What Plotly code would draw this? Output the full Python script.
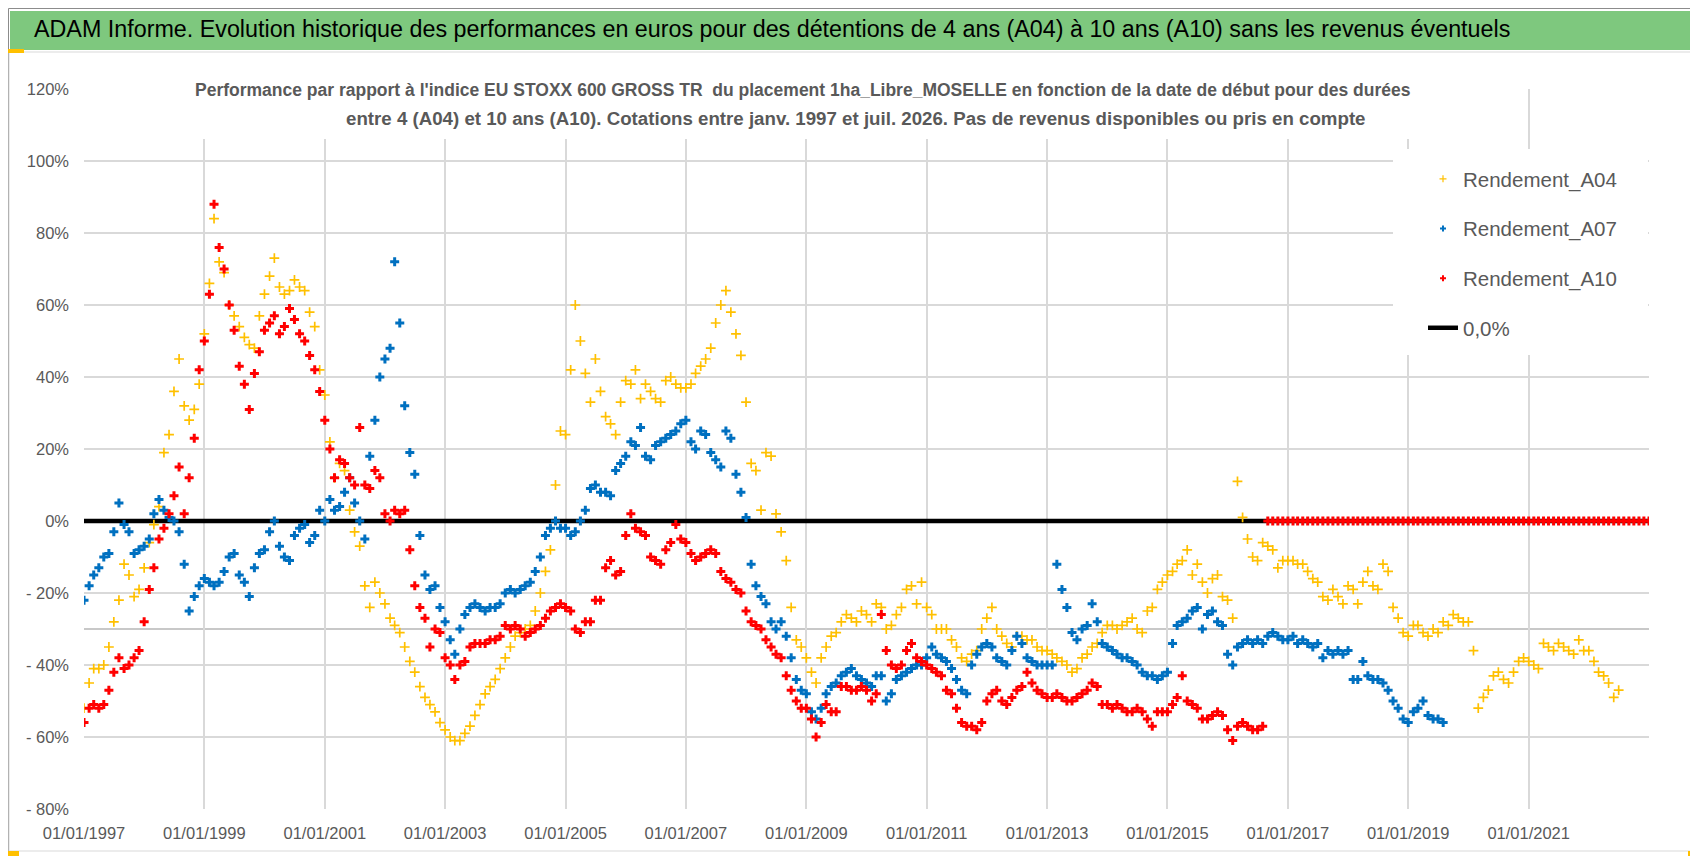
import plotly.graph_objects as go
import pandas as pd

# Rendement (%) par date de début, un point par mois
A04 = [
    -52, -45, -41, -41, -40, -35, -28, -22, -12, -15, -21, -19,   # 1997
    -13, -6, -1, 4, 19, 24, 36, 45, 32, 28, 31, 38,               # 1998
    52, 66, 84, 72, 69, 60, 57, 54, 51, 49, 48, 57,               # 1999
    63, 68, 73, 65, 63, 64, 67, 65, 64, 58, 54, 42,               # 2000
    35, 22, 12, 16, 14, 3, -3, -7, -18, -24, -17, -20,            # 2001
    -23, -27, -29, -31, -35, -39, -42, -46, -49, -51, -53, -56,   # 2002
    -58, -60, -61, -61, -59, -57, -54, -51, -48, -46, -44, -41,   # 2003
    -38, -35, -32, -31, -30, -29, -25, -20, -14, -8, 10, 25,      # 2004
    24, 42, 60, 50, 41, 33, 45, 36, 29, 27, 24, 33,               # 2005
    39, 38, 42, 34, 38, 36, 34, 33, 39, 40, 38, 37,               # 2006
    37, 38, 41, 43, 45, 48, 55, 60, 64, 58, 52, 46,               # 2007
    33, 16, 14, 3, 19, 18, 2, -3, -11, -24, -33, -35,             # 2008
    -38, -42, -45, -38, -35, -32, -31, -28, -26, -27, -28, -25,   # 2009
    -26, -28, -23, -24, -30, -29, -26, -24, -19, -18, -23, -17,   # 2010
    -24, -26, -30, -30, -30, -33, -35, -38, -39, -37, -36, -30,   # 2011
    -27, -24, -30, -32, -34, -35, -32, -32, -33, -33, -35, -36,   # 2012
    -36, -37, -38, -39, -40, -42, -41, -38, -37, -35, -34, -31,   # 2013
    -29, -29, -30, -29, -28, -27, -30, -31, -25, -24, -19, -17,   # 2014
    -15, -14, -12, -11, -8, -15, -12, -17, -20, -16, -15, -21,    # 2015
    -22, -27, 11, 1, -5, -10, -11, -6, -7, -8, -13, -11,          # 2016
    -11, -11, -12, -12, -14, -16, -17, -21, -22, -19, -21, -23,   # 2017
    -18, -19, -23, -17, -14, -18, -19, -12, -14, -24, -27, -31,   # 2018
    -32, -29, -29, -31, -32, -30, -31, -28, -29, -26, -27, -28,   # 2019
    -28, -36, -52, -49, -47, -43, -42, -44, -45, -42, -39, -38,   # 2020
    -39, -40, -41, -34, -35, -36, -34, -35, -36, -37, -33, -36,   # 2021
    -36, -39, -42, -43, -45, -49, -47,                            # 2022
]

A07 = [
    -22, -18, -15, -13, -10, -9, -3, 5, -1, -3, -9, -8,           # 1997
    -7, -5, 2, 6, 3, 1, 0, -3, -12, -25, -21, -18,                # 1998
    -16, -17, -18, -17, -14, -10, -9, -15, -17, -21, -13, -9,     # 1999
    -8, -3, 0, -7, -10, -11, -4, -2, -1, -6, -4, 3,               # 2000
    0, 6, 3, 4, 8, 12, 5, 0, -5, 18, 28, 40,                      # 2001
    45, 48, 72, 55, 32, 19, 13, -4, -15, -19, -18, -24,           # 2002
    -28, -33, -37, -30, -26, -24, -23, -24, -25, -24, -24, -23,   # 2003
    -20, -19, -20, -19, -18, -17, -14, -10, -4, -2, 0, -2,        # 2004
    -2, -4, -3, 0, 3, 9, 10, 8, 8, 7, 14, 16,                     # 2005
    18, 22, 21, 26, 18, 17, 21, 22, 23, 24, 25, 27,               # 2006
    28, 22, 20, 25, 24, 19, 17, 15, 25, 23, 13, 8,                # 2007
    1, -12, -18, -21, -23, -28, -30, -28, -32, -38, -44, -47,     # 2008
    -48, -53, -55, -52, -48, -46, -45, -43, -42, -41, -43, -44,   # 2009
    -45, -46, -43, -43, -50, -48, -44, -43, -42, -41, -40, -40,   # 2010
    -38, -35, -37, -38, -39, -41, -44, -47, -48, -40, -37, -35,   # 2011
    -34, -35, -38, -39, -40, -36, -32, -34, -38, -39, -40, -40,   # 2012
    -40, -40, -12, -19, -24, -31, -33, -30, -29, -23, -28, -34,   # 2013
    -35, -36, -37, -38, -38, -39, -40, -42, -43, -43, -44, -43,   # 2014
    -42, -34, -29, -28, -27, -25, -24, -30, -26, -25, -28, -29,   # 2015
    -37, -40, -35, -34, -33, -34, -33, -34, -32, -31, -32, -33,   # 2016
    -33, -32, -34, -33, -34, -35, -34, -38, -36, -37, -36, -37,   # 2017
    -36, -44, -44, -39, -43, -44, -44, -45, -47, -50, -52, -55,   # 2018
    -56, -53, -52, -50, -54, -55, -55, -56,                       # 2019
]

A10 = [
    -56, -52, -51, -52, -51, -47, -42, -38, -41, -40, -38, -36,   # 1997
    -28, -19, -13, -5, -2, 2, 7, 15, 2, 12, 23, 42,               # 1998
    50, 63, 88, 76, 70, 60, 53, 43, 38, 31, 41, 47,               # 1999
    53, 55, 57, 52, 54, 59, 56, 52, 50, 46, 42, 36,               # 2000
    28, 20, 12, 17, 16, 12, 10, 26, 10, 9, 14, 12,                # 2001
    2, 0, 3, 2, 3, -8, -18, -24, -27, -35, -30, -31,              # 2002
    -38, -40, -44, -40, -39, -35, -34, -34, -34, -33, -33, -32,   # 2003
    -29, -30, -29, -30, -32, -31, -30, -29, -27, -25, -24, -23,   # 2004
    -24, -25, -30, -31, -28, -28, -22, -22, -13, -11, -15, -14,   # 2005
    -4, 2, -2, -3, -4, -10, -11, -12, -8, -6, -1, -5,             # 2006
    -6, -9, -11, -10, -9, -8, -9, -14, -16, -17, -19, -20,        # 2007
    -25, -28, -29, -30, -33, -35, -37, -38, -43, -47, -50, -52,   # 2008
    -52, -55, -60, -56, -51, -53, -53, -46, -46, -47, -47, -46,   # 2009
    -47, -50, -48, -26, -36, -40, -41, -40, -36, -34, -38, -39,   # 2010
    -40, -41, -42, -43, -47, -48, -52, -56, -57, -57, -58, -56,   # 2011
    -50, -48, -47, -50, -51, -49, -47, -46, -42, -45, -47, -48,   # 2012
    -49, -49, -48, -49, -50, -50, -49, -48, -47, -45, -46, -51,   # 2013
    -51, -52, -51, -52, -53, -53, -52, -53, -55, -57, -53, -53,   # 2014
    -53, -51, -49, -43, -50, -51, -52, -55, -55, -54, -53, -54,   # 2015
    -58, -61, -57, -56, -57, -58, -58, -57,                       # 2016 (jan-aout)
    0, 0, 0, 0,                                                   # 2016 (sept-dec)
    0, 0, 0, 0, 0, 0, 0, 0, 0, 0, 0, 0,                           # 2017
    0, 0, 0, 0, 0, 0, 0, 0, 0, 0, 0, 0,                           # 2018
    0, 0, 0, 0, 0, 0, 0, 0, 0, 0, 0, 0,                           # 2019
    0, 0, 0, 0, 0, 0, 0, 0, 0, 0, 0, 0,                           # 2020
    0, 0, 0, 0, 0, 0, 0, 0, 0, 0, 0, 0,                           # 2021
    0, 0, 0, 0, 0, 0, 0, 0, 0, 0, 0, 0,                           # 2022
    0,                                                            # 2023
]

ZERO_LINE_DATES = ["1997-01-01", "2023-01-01"]
ZERO_LINE_VALUES = [0, 0]

X_TICKS = ["1997-01-01", "1999-01-01", "2001-01-01", "2003-01-01", "2005-01-01",
           "2007-01-01", "2009-01-01", "2011-01-01", "2013-01-01", "2015-01-01",
           "2017-01-01", "2019-01-01", "2021-01-01"]
Y_TICKS = [120, 100, 80, 60, 40, 20, 0, -20, -40, -60, -80]
Y_LABELS = ["120%", "100%", "80%", "60%", "40%", "20%", "0%",
            "- 20%", "- 40%", "- 60%", "- 80%"]

SERIES = [
    ("Rendement_A04", A04, "#FFC000", "cross-thin"),
    ("Rendement_A07", A07, "#0070C0", "cross"),
    ("Rendement_A10", A10, "#FF0000", "cross"),
]

TITRE = ("ADAM Informe. Evolution historique des performances en euros pour des "
         "détentions de 4 ans (A04) à 10 ans (A10) sans les revenus éventuels")
SOUS_TITRE_1 = ("Performance par rapport à l'indice EU STOXX 600 GROSS TR  du placement "
                "1ha_Libre_MOSELLE en fonction de la date de début pour des durées")
SOUS_TITRE_2 = ("entre 4 (A04) et 10 ans (A10). Cotations entre janv. 1997 et juil. 2026. "
                "Pas de revenus disponibles ou pris en compte")

FONT = "Liberation Sans, Arial, sans-serif"
GRIS = "#595959"

W, H = 1698, 856
ML, MR, MT, MB = 76, 57, 81, 55


def px(x):
    # pixel -> coordonnée papier (horizontal)
    return (x - ML) / (W - ML - MR)


def py(y):
    # pixel -> coordonnée papier (vertical)
    return (H - MB - y) / (H - MT - MB)


fig = go.Figure()

# ligne 0,0%
fig.add_trace(go.Scatter(
    x=ZERO_LINE_DATES, y=ZERO_LINE_VALUES, mode="lines", name="0,0%",
    line=dict(color="black", width=4.5), showlegend=False, hoverinfo="skip"))

for name, values, color, symbol in SERIES:
    dates = pd.date_range("1997-01-01", periods=len(values), freq="MS")
    if symbol == "cross-thin":
        marker = dict(symbol=symbol, size=7, color=color, line=dict(width=1.7, color=color))
    else:
        marker = dict(symbol=symbol, size=7.5, color=color, line=dict(width=0))
    fig.add_trace(go.Scatter(x=dates, y=values, mode="markers", name=name,
                             marker=marker, showlegend=False))

# entrées de légende (petits symboles comme dans l'original)
for i, (name, values, color, symbol) in enumerate(SERIES):
    if symbol == "cross-thin":
        marker = dict(symbol=symbol, size=5, color=color, line=dict(width=1.2, color=color))
    else:
        marker = dict(symbol=symbol, size=5, color=color, line=dict(width=0))
    fig.add_trace(go.Scatter(x=[None], y=[None], mode="markers", name=name,
                             marker=marker, legendgroup=f"g{i}"))
fig.add_trace(go.Scatter(x=[None], y=[None], mode="lines", name="0,0%",
                         line=dict(color="black", width=4.5), legendgroup="g3"))

shapes = [
    # cadre extérieur
    dict(type="rect", xref="paper", yref="paper", x0=px(0.5), x1=px(1697.5),
         y0=py(0.5), y1=py(855.5), line=dict(color="#8c8c8c", width=1), layer="below"),
    # zone du graphique
    dict(type="rect", xref="paper", yref="paper", x0=px(1), x1=px(1688),
         y0=py(44), y1=py(843), line=dict(color="#d9d9d9", width=1), layer="below"),
    # bandeau vert
    dict(type="rect", xref="paper", yref="paper", x0=px(2), x1=px(1686),
         y0=py(3), y1=py(42), fillcolor="#7ec87e", line=dict(width=0), layer="below"),
    # ligne -30 %
    dict(type="line", xref="paper", yref="y", x0=0, x1=1, y0=-30, y1=-30,
         line=dict(color="#c8c8c8", width=2), layer="below"),
    # fond blanc du titre
    dict(type="rect", xref="paper", yref="paper", x0=px(190), x1=px(1408),
         y0=py(66), y1=py(131), fillcolor="white", line=dict(width=0), layer="above"),
    # fond blanc de la légende
    dict(type="rect", xref="paper", yref="paper", x0=px(1385), x1=px(1640),
         y0=py(141), y1=py(347), fillcolor="white", line=dict(width=0), layer="above"),
]
# poignées de sélection jaunes
for x0, x1, y0, y1 in [(0, 16, 41, 45), (1687, 1692, 42, 56),
                       (1687, 1692, 800, 850), (0, 11, 843, 849), (1680, 1692, 843, 850)]:
    shapes.append(dict(type="rect", xref="paper", yref="paper", x0=px(x0), x1=px(x1),
                       y0=py(y0), y1=py(y1), fillcolor="#FFC000", line=dict(width=0),
                       layer="above"))

annotations = [
    dict(text=TITRE, xref="paper", yref="paper", x=px(24), y=py(21),
         xanchor="left", yanchor="middle", showarrow=False,
         font=dict(family=FONT, size=23.3, color="black")),
    dict(text=SOUS_TITRE_1, xref="paper", yref="paper", x=px(795), y=py(82),
         xanchor="center", yanchor="middle", showarrow=False,
         font=dict(family=FONT, size=17.5, color=GRIS, weight="bold")),
    dict(text=SOUS_TITRE_2, xref="paper", yref="paper", x=px(848), y=py(111),
         xanchor="center", yanchor="middle", showarrow=False,
         font=dict(family=FONT, size=18.7, color=GRIS, weight="bold")),
]

fig.update_layout(
    width=W, height=H,
    margin=dict(l=ML, r=MR, t=MT, b=MB),
    paper_bgcolor="white", plot_bgcolor="white",
    font=dict(family=FONT, color=GRIS),
    shapes=shapes, annotations=annotations,
    legend=dict(x=px(1415), y=py(151), xanchor="left", yanchor="top",
                bgcolor="rgba(0,0,0,0)", font=dict(size=20.5, color=GRIS),
                tracegroupgap=20, itemwidth=30),
    hovermode=False,
)
fig.update_xaxes(
    type="date", range=["1997-01-01", "2023-01-01"], tickvals=X_TICKS,
    tickformat="%d/%m/%Y", showgrid=True, gridcolor="#d9d9d9", gridwidth=1.5,
    showline=False, zeroline=False, ticks="", ticklabelstandoff=12,
    tickfont=dict(size=16.5, color=GRIS))
fig.update_yaxes(
    range=[-80, 120], tickvals=Y_TICKS, ticktext=Y_LABELS,
    showgrid=True, gridcolor="#d9d9d9", gridwidth=1.5,
    showline=False, zeroline=False, ticks="", ticklabelstandoff=14,
    tickfont=dict(size=16.5, color=GRIS))

fig.write_html("out.html")
